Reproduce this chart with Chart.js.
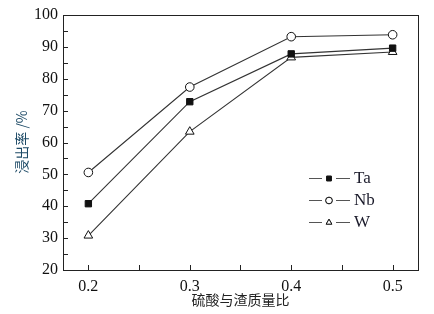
<!DOCTYPE html>
<html>
<head>
<meta charset="utf-8">
<script src="https://cdn.jsdelivr.net/npm/chart.js@4.4.0/dist/chart.umd.min.js"></script>
<style>
  html, body { margin: 0; padding: 0; background: #fff; }
  #wrap { width: 434px; height: 314px; }
</style>
</head>
<body>
<div id="wrap"><canvas id="leachChart" width="434" height="314"></canvas></div>
<script>
// 硫酸与渣质量比
var ratios = [0.2, 0.3, 0.4, 0.5];
var taValues = [40.8, 72.8, 87.8, 89.6];
var nbValues = [50.6, 77.4, 93.2, 93.8];
var wValues = [30.8, 63.4, 86.7, 88.4];
var xTicks = [0.2, 0.3, 0.4, 0.5];
var xMinorTicks = [0.25, 0.35, 0.45];
var yTicks = [20, 30, 40, 50, 60, 70, 80, 90, 100];

function pts(vals) {
    return ratios.map(function(r, i) { return { x: r, y: vals[i] }; });
}

var serif = '"Liberation Serif", "DejaVu Serif", serif';
var cjk = '"Noto Sans CJK SC", sans-serif';

// frame, inward ticks, axis titles and line+marker legend
var framePlugin = {
    id: 'frame',
    afterDraw: function(chart) {
        var ctx = chart.ctx;
        var a = chart.chartArea;
        var xs = chart.scales.x, ys = chart.scales.y;
        ctx.save();
        ctx.strokeStyle = '#222';
        ctx.lineWidth = 1;
        ctx.strokeRect(Math.round(a.left) + 0.5, Math.round(a.top) + 0.5,
                       Math.round(a.right - a.left), Math.round(a.bottom - a.top));
        ctx.beginPath();
        xTicks.concat(xMinorTicks).forEach(function(v) {
            var px = Math.round(xs.getPixelForValue(v)) + 0.5;
            ctx.moveTo(px, a.bottom);
            ctx.lineTo(px, a.bottom - 5);
        });
        for (var v = 20; v <= 100; v += 5) {
            var py = Math.round(ys.getPixelForValue(v)) + 0.5;
            ctx.moveTo(a.left, py);
            ctx.lineTo(a.left + 5, py);
        }
        ctx.stroke();

        // axis titles
        ctx.fillStyle = '#222';
        ctx.font = '14px ' + cjk;
        ctx.textAlign = 'center';
        ctx.textBaseline = 'middle';
        ctx.fillText('硫酸与渣质量比', (a.left + a.right) / 2, 300);
        ctx.save();
        ctx.translate(22, 142);
        ctx.rotate(-Math.PI / 2);
        ctx.fillStyle = '#1d4a66';
        ctx.font = '14px ' + cjk;
        ctx.fillText('浸出率 /%', 0, 0);
        ctx.restore();

        // legend
        var lx = 309, ly = 178, gap = 22;
        chart.data.datasets.forEach(function(ds, i) {
            var y = ly + i * gap;
            ctx.strokeStyle = '#555';
            ctx.beginPath();
            ctx.moveTo(lx, y + 0.5); ctx.lineTo(lx + 13, y + 0.5);
            ctx.moveTo(lx + 27, y + 0.5); ctx.lineTo(lx + 41, y + 0.5);
            ctx.stroke();
            Chart.helpers.drawPoint(ctx, {
                pointStyle: ds.pointStyle,
                radius: 3.3,
                borderWidth: 1
            }, lx + 20, y + 0.5);
            ctx.fillStyle = ds.pointBackgroundColor;
            ctx.strokeStyle = '#111';
            ctx.fill(); ctx.stroke();
            ctx.fillStyle = '#1a1a2a';
            ctx.font = '17px ' + serif;
            ctx.textAlign = 'left';
            ctx.fillText(ds.label, lx + 45, y + 1);
        });
        ctx.restore();
    }
};

var ctxLine = document.getElementById('leachChart').getContext('2d');
var leachChart = new Chart(ctxLine, {
    type: 'line',
    data: {
        datasets: [
            {
                label: 'Ta',
                data: pts(taValues),
                borderColor: '#333',
                borderWidth: 1.1,
                pointStyle: 'rect',
                pointRadius: 4.5,
                pointBackgroundColor: '#111',
                pointBorderColor: '#111',
                pointBorderWidth: 1
            },
            {
                label: 'Nb',
                data: pts(nbValues),
                borderColor: '#333',
                borderWidth: 1.1,
                pointStyle: 'circle',
                pointRadius: 4.3,
                pointBackgroundColor: '#fff',
                pointBorderColor: '#111',
                pointBorderWidth: 1
            },
            {
                label: 'W',
                data: pts(wValues),
                borderColor: '#333',
                borderWidth: 1.1,
                pointStyle: 'triangle',
                pointRadius: 5,
                pointBackgroundColor: '#fff',
                pointBorderColor: '#111',
                pointBorderWidth: 1
            }
        ]
    },
    options: {
        responsive: false,
        animation: false,
        layout: { padding: { top: 15, right: 16, left: 0, bottom: 0 } },
        plugins: {
            legend: { display: false },
            tooltip: { enabled: false }
        },
        scales: {
            x: {
                type: 'linear',
                min: 0.175,
                max: 0.525,
                afterBuildTicks: function(scale) {
                    scale.ticks = xTicks.map(function(v) { return { value: v }; });
                },
                afterFit: function(scale) { scale.height = 44; },
                grid: { display: false, drawTicks: false },
                border: { display: false },
                ticks: {
                    padding: 7,
                    color: '#111',
                    font: { family: serif, size: 16 },
                    callback: function(v) { return v.toFixed(1); }
                }
            },
            y: {
                min: 20,
                max: 100,
                afterBuildTicks: function(scale) {
                    scale.ticks = yTicks.map(function(v) { return { value: v }; });
                },
                afterFit: function(scale) { scale.width = 63; },
                grid: { display: false, drawTicks: false },
                border: { display: false },
                ticks: {
                    padding: 5,
                    color: '#111',
                    font: { family: serif, size: 16 }
                }
            }
        }
    },
    plugins: [framePlugin]
});
</script>
</body>
</html>
